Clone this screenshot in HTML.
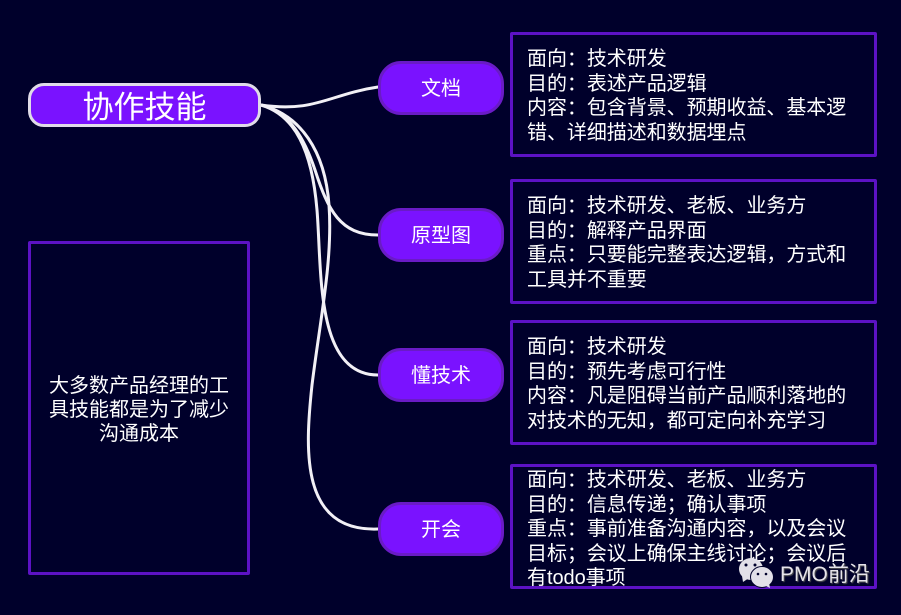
<!DOCTYPE html>
<html lang="zh">
<head>
<meta charset="utf-8">
<style>
html,body{margin:0;padding:0;width:901px;height:615px;overflow:hidden;background:#00002b}
body{position:relative;font-family:"Liberation Sans","Noto Sans CJK SC",sans-serif;color:#fff}
.box{position:absolute;box-sizing:border-box;border:3px solid #5c12c4;border-radius:2px}
.node{position:absolute;left:378px;width:126px;height:54px;box-sizing:border-box;background:#7a12ff;border:3px solid #6a1bc6;border-radius:23px;font-size:20px;line-height:50px;text-align:center;white-space:nowrap}
.t{position:absolute;left:527px;font-size:20px;line-height:24.5px;white-space:nowrap;letter-spacing:-0.05px}
.c{position:absolute;left:28px;width:222px;text-align:center;font-size:20px;line-height:24px;white-space:nowrap}
svg{position:absolute;left:0;top:0}
</style>
</head>
<body>
<svg width="901" height="615" viewBox="0 0 901 615" fill="none">
<g stroke="#f2f0f6" stroke-width="3" stroke-linecap="round">
<path d="M261,105 C315,113 330,94 378,87"/>
<path d="M261,105 C290,112 305,140 315,170 C328,210 340,235 378,235"/>
<path d="M261,105 C295,115 312,150 317,210 C322,270 315,375 378,375"/>
<path d="M261,105 C300,115 325,150 329,205 C333,260 320,320 312,385 C305,450 300,532 378,529"/>
</g>
</svg>

<div style="position:absolute;left:28px;top:83px;width:233px;height:44px;box-sizing:border-box;background:#7a12ff;border:3px solid #e0dce8;border-radius:16px;font-size:31px;line-height:43px;text-align:center;white-space:nowrap">协作技能</div>

<div class="node" style="top:61px">文档</div>
<div class="node" style="top:208px">原型图</div>
<div class="node" style="top:348px">懂技术</div>
<div class="node" style="top:502px">开会</div>

<div class="box" style="left:510px;top:32px;width:367px;height:125px"></div>
<div class="box" style="left:510px;top:179px;width:367px;height:125px"></div>
<div class="box" style="left:510px;top:320px;width:367px;height:125px"></div>
<div class="box" style="left:510px;top:464px;width:367px;height:125px"></div>
<div class="box" style="left:28px;top:241px;width:222px;height:334px"></div>

<div class="c" style="top:374px">大多数产品经理的工</div>
<div class="c" style="top:398px">具技能都是为了减少</div>
<div class="c" style="top:422px">沟通成本</div>

<div class="t" style="top:47px">面向：技术研发<br>目的：表述产品逻辑<br>内容：包含背景、预期收益、基本逻<br>错、详细描述和数据埋点</div>
<div class="t" style="top:194px">面向：技术研发、老板、业务方<br>目的：解释产品界面<br>重点：只要能完整表达逻辑，方式和<br>工具并不重要</div>
<div class="t" style="top:335px">面向：技术研发<br>目的：预先考虑可行性<br>内容：凡是阻碍当前产品顺利落地的<br>对技术的无知，都可定向补充学习</div>
<div class="t" style="top:468px">面向：技术研发、老板、业务方<br>目的：信息传递；确认事项<br>重点：事前准备沟通内容，以及会议<br>目标；会议上确保主线讨论；会议后<br>有todo事项</div>

<svg width="901" height="615" viewBox="0 0 901 615">
<g fill="#e2e0e8">
<ellipse cx="751" cy="569" rx="12" ry="11"/>
<path d="M742,576 L743,582 L749,578 Z"/>
</g>
<g fill="#00002b"><circle cx="746" cy="565" r="1.5"/><circle cx="755" cy="565" r="1.5"/></g>
<ellipse cx="762" cy="577" rx="11.5" ry="10.5" fill="#e2e0e8" stroke="#00002b" stroke-width="1"/>
<path d="M764,585 L770,588 L769,583 Z" fill="#e2e0e8"/>
<g fill="#00002b"><circle cx="758" cy="574" r="1.3"/><circle cx="766" cy="574" r="1.3"/></g>
</svg>
<div style="position:absolute;left:780px;top:561px;font-size:21px;line-height:27px;color:#e6e4ea;white-space:nowrap;text-shadow:1px 1px 1px #555">PMO前沿</div>
</body>
</html>
